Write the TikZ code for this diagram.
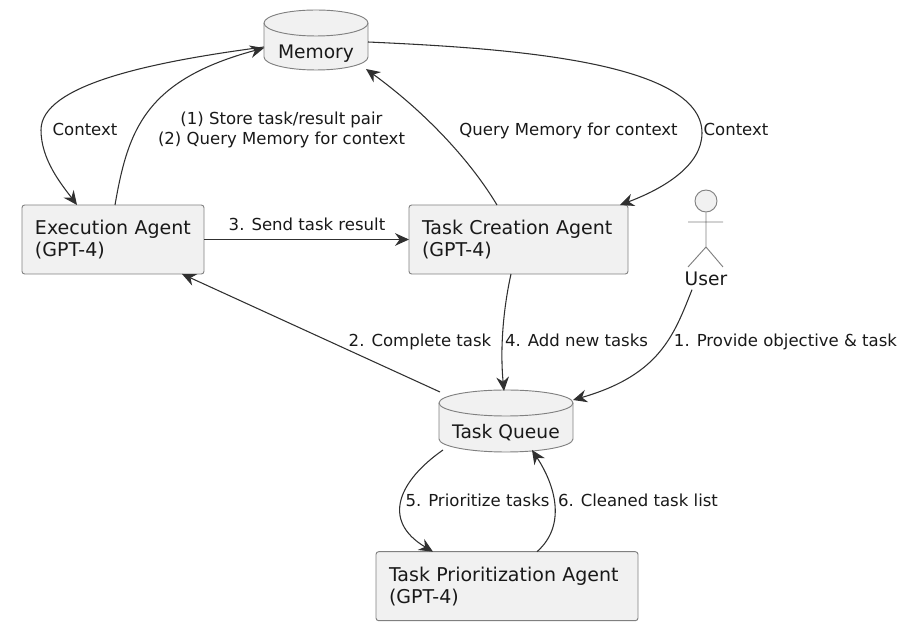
\documentclass[tikz,border=0pt]{standalone}
\usepackage{fontspec}
\setmainfont{DejaVu Sans}
\usetikzlibrary{arrows.meta,shapes.geometric}
\definecolor{boxfill}{HTML}{F1F1F1}
\definecolor{boxline}{HTML}{808080}
\definecolor{inkline}{HTML}{303030}
\tikzset{
  agent/.style={draw=boxline,fill=boxfill,line width=.7pt,rounded corners=2pt,inner xsep=9.75pt,inner ysep=0pt,
    align=left,minimum height=51.75pt,font=\fontsize{14.25}{16.5}\selectfont,text=black!90,anchor=north west,outer sep=0pt},
  store/.style={inner sep=0pt,outer sep=0pt},
  storetext/.style={font=\fontsize{14}{15}\selectfont,text=black!90,anchor=base,inner sep=0pt},
  lbl/.style={font=\fontsize{12.4}{15}\selectfont,text=black!90,inner sep=0pt,outer sep=0pt,anchor=base},
  flow/.style={draw=inkline,line width=.8pt,-{Stealth[length=10.5pt,width=9.5pt,inset=3.5pt]}},
  stick/.style={draw=boxline,line width=.7pt}
}
% #1 node name, #2 half width in pt, #3 end-ellipse minor radius in pt, #4 straight side length in pt
\newcommand{\storeshape}[4]{%
  \draw[draw=boxline,fill=boxfill,line width=.7pt]
    ([shift={(-#2,#4/2)}]#1.center) arc[start angle=180,end angle=0,x radius=#2,y radius=#3]
    -- ++(0pt,-#4) arc[start angle=0,end angle=-180,x radius=#2,y radius=#3] -- cycle;
  \draw[draw=boxline,line width=.7pt]
    ([shift={(-#2,#4/2)}]#1.center) arc[start angle=180,end angle=360,x radius=#2,y radius=#3];
}
\begin{document}
\begin{tikzpicture}[x=.75pt,y=-.75pt]
\useasboundingbox (0,0) rectangle (908,630);
\node[store] (mem) at (316,40) {};
\storeshape{mem}{39pt}{9.75pt}{25.5pt}
\node[storetext] (memt) at (316,59) {Memory};
\node[store] (queue) at (506,421) {};
\storeshape{queue}{50.25pt}{9.75pt}{27pt}
\node[storetext] (queuet) at (506,439) {Task Queue};
\node[agent,text width=117pt] (exec) at (22,205) {Execution Agent\\(GPT-4)};
\node[agent,text width=144.75pt] (tca) at (409,205) {Task Creation Agent\\(GPT-4)};
\node[agent,text width=177pt] (prio) at (376,551.7) {Task Prioritization Agent\\(GPT-4)};
% actor
\node[circle,draw=boxline,fill=boxfill,line width=.7pt,minimum size=16.5pt,inner sep=0pt] (head) at (706,201) {};
\coordinate (hip) at (706,247);
\coordinate (larm) at (688,222);
\coordinate (rarm) at (723,222);
\coordinate (lfoot) at (688,267);
\coordinate (rfoot) at (723,267);
\draw[stick] (head.south) -- (hip) (larm) -- (rarm) (lfoot) -- (hip) -- (rfoot);
\node[storetext] (user) at (706,285.7) {User};
% connectors
\draw[flow] ([shift={(-52,7)}]mem.center) .. controls (150,62) and (41,85) .. (41,130) .. controls (41,160) and (62,185) .. ([shift={(55,0)}]exec.north west);
\draw[flow] ([shift={(93,0)}]exec.north west) .. controls (128,130) and (145,80) .. ([shift={(-52,8)}]mem.center);
\draw[flow] ([shift={(52,2)}]mem.center) .. controls (500,48) and (702,60) .. (702,133) .. controls (702,165) and (665,188) .. ([shift={(211,0)}]tca.north west);
\draw[flow] ([shift={(88,0)}]tca.north west) .. controls (470,160) and (425,112) .. ([shift={(50,29)}]mem.center);
\draw[flow] (exec.east) -- (tca.west);
\draw[flow] ([shift={(-66,-29)}]queue.center) -- ([shift={(160,0)}]exec.south west);
\draw[flow] ([shift={(102,0)}]tca.south west) .. controls (503,310) and (500,350) .. ([shift={(-2,-30)}]queue.center);
\draw[flow] ([shift={(-14,4)}]user.base) .. controls (674,335) and (660,375) .. ([shift={(67,-21)}]queue.center);
\draw[flow] ([shift={(-63,29)}]queue.center) .. controls (400,480) and (380,520) .. ([shift={(57,0)}]prio.north west);
\draw[flow] ([shift={(161,0)}]prio.north west) .. controls (567,525) and (555,485) .. ([shift={(26,29)}]queue.center);
% labels
\node[lbl] (l1) at (85,136) {Context};
\node[lbl,anchor=center,align=center] (l2) at (281.5,130) {(1) Store task/result pair\\(2) Query Memory for context};
\node[lbl] (l3) at (568.5,136) {Query Memory for context};
\node[lbl] (l4) at (736,136) {Context};
\node[lbl] (l5) at (307,231) {3. Send task result};
\node[lbl] (l6) at (420,346.5) {2. Complete task};
\node[lbl] (l7) at (576.5,346.5) {4. Add new tasks};
\node[lbl] (l8) at (785.5,346.5) {1. Provide objective \& task};
\node[lbl] (l9) at (477.5,506.5) {5. Prioritize tasks};
\node[lbl] (l10) at (638,506.5) {6. Cleaned task list};
\end{tikzpicture}
\end{document}
